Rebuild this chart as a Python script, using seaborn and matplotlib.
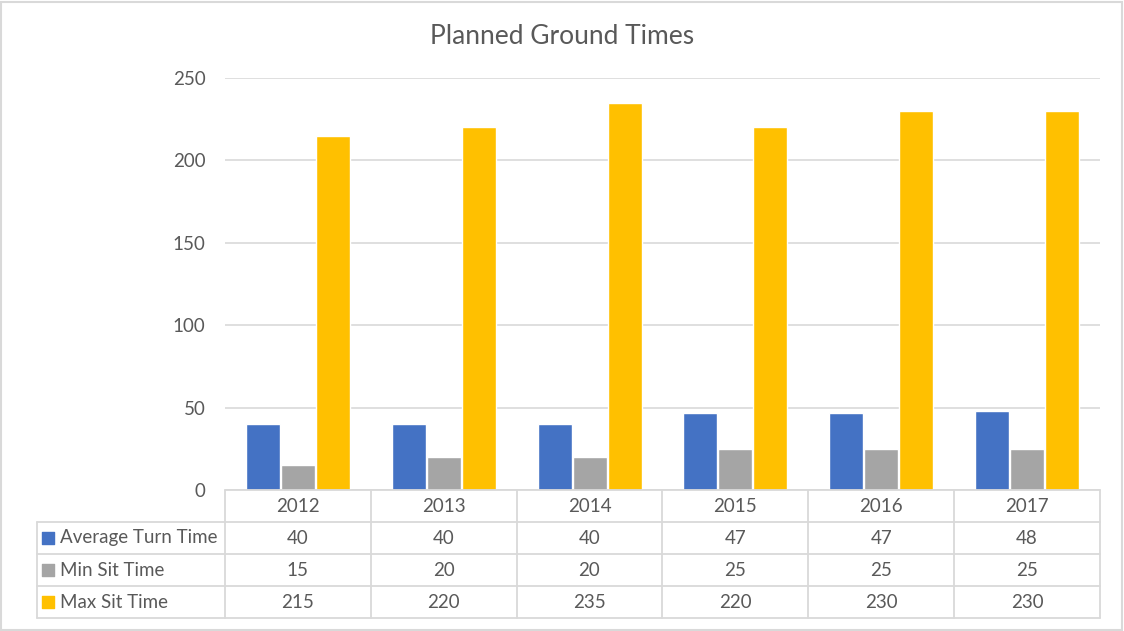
import matplotlib
matplotlib.use("Agg")
import matplotlib.pyplot as plt
import seaborn as sns
import pandas as pd

# chart data
years = ["2012", "2013", "2014", "2015", "2016", "2017"]
series = ["Average Turn Time", "Min Sit Time", "Max Sit Time"]
avg_turn = [40, 40, 40, 47, 47, 48]
min_sit = [15, 20, 20, 25, 25, 25]
max_sit = [215, 220, 235, 220, 230, 230]
colors = ["#4472C4", "#A5A5A5", "#FFC000"]

values = [avg_turn, min_sit, max_sit]
df = pd.DataFrame({
    "year": [y for s in series for y in years],
    "series": [s for s in series for y in years],
    "value": [v for vals in values for v in vals],
})

sns.set_theme(style="white")
plt.rcParams["font.family"] = ["Lato", "DejaVu Sans"]
txt = "#595959"
line_c = "#D9D9D9"
fs = 13.5

W, H = 1124, 631
fig = plt.figure(figsize=(W / 100, H / 100), dpi=100)

# main plot area
ax = fig.add_axes([225 / W, 1 - 490 / H, (1100 - 225) / W, (490 - 78) / H])
sns.barplot(data=df, x="year", y="value", hue="series", palette=colors,
            width=0.72, gap=0.03, saturation=1, legend=False, ax=ax)
ax.set_ylim(0, 250)
ax.set_xlim(-0.5, len(years) - 0.5)
ax.set_yticks(range(0, 251, 50))
ax.yaxis.grid(True, color=line_c, linewidth=1.2)
ax.set_axisbelow(True)
ax.tick_params(axis="y", length=0, pad=14, labelsize=fs, labelcolor=txt)
ax.set_xticks([])
ax.set_xlabel("")
ax.set_ylabel("")
for sp in ax.spines.values():
    sp.set_visible(False)

fig.text(0.5, 1 - 36 / H, "Planned Ground Times", ha="center", va="center",
         fontsize=19, color=txt)

# data table under the plot
lab_w = (225 - 37) / 146.0
left = -0.5 - lab_w
right = len(years) - 0.5
nrows = len(series)
tab = fig.add_axes([37 / W, 1 - 618 / H, (1100 - 37) / W, (618 - 490) / H])
tab.set_xlim(left, right)
tab.set_ylim(nrows + 1, 0)
tab.axis("off")
lw = 1.3
tab.plot([-0.5, right], [0, 0], color=line_c, lw=lw, clip_on=False)
for r in range(1, nrows + 2):
    tab.plot([left, right], [r, r], color=line_c, lw=lw, clip_on=False)
tab.plot([left, left], [1, nrows + 1], color=line_c, lw=lw, clip_on=False)
for k in range(len(years) + 1):
    tab.plot([k - 0.5, k - 0.5], [0, nrows + 1], color=line_c, lw=lw, clip_on=False)

for i, y in enumerate(years):
    tab.text(i, 0.5, y, ha="center", va="center", fontsize=fs, color=txt)
for r, (name, vals, c) in enumerate(zip(series, values, colors)):
    yy = r + 1.5
    tab.scatter([left + 0.075], [yy], marker="s", s=80, color=c, clip_on=False)
    tab.text(left + 0.16, yy, name, ha="left", va="center", fontsize=fs, color=txt)
    for i, v in enumerate(vals):
        tab.text(i, yy, str(v), ha="center", va="center", fontsize=fs, color=txt)

# outer chart border
fig.patches.append(plt.Rectangle((1 / W, 1 / H), 1 - 3 / W, 1 - 3 / H,
                                 transform=fig.transFigure, fill=False,
                                 edgecolor=line_c, linewidth=1.5))

fig.savefig("out.png", dpi=100)
